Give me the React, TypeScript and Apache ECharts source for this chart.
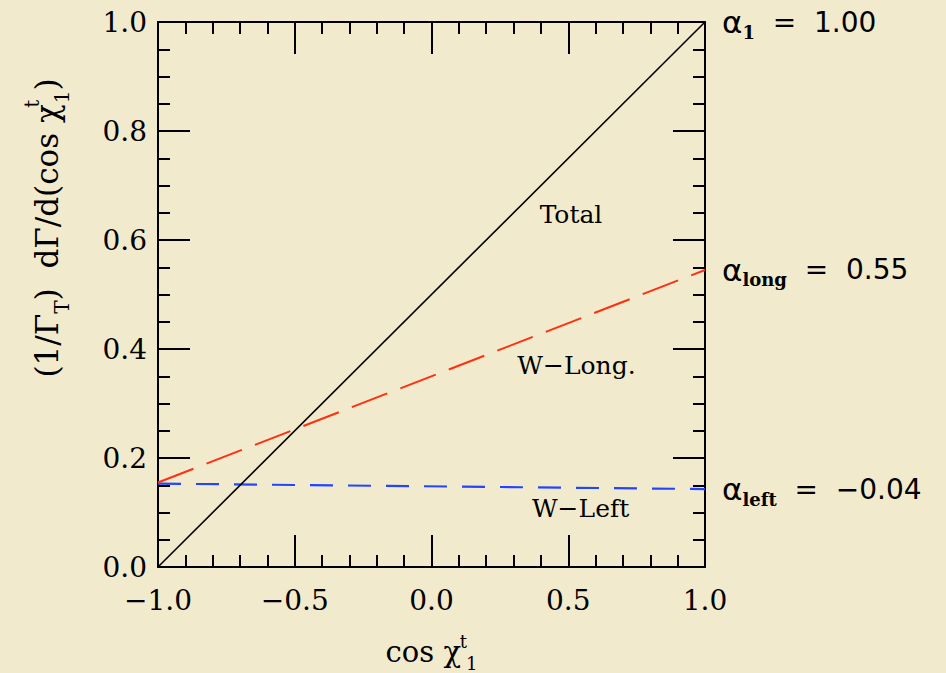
import React, { useEffect, useRef } from 'react';
import * as echarts from 'echarts';

// ---- data ----
const cosChi: number[] = [-1.0, 1.0];
const totalValues: number[] = [0.0, 1.0];
const longValues: number[] = [0.155, 0.545];
const leftValues: number[] = [0.153, 0.143];

const curveNames: string[] = ['Total', 'W−Long.', 'W−Left'];
const alphaSubs: string[] = ['1', 'long', 'left'];
const alphaValues: string[] = ['1.00', '0.55', '−0.04'];
// anchor (data coords) of the in-plot curve captions
const captionX: number[] = [0.51, 0.53, 0.545];
const captionY: number[] = [0.647, 0.369, 0.107];

const xMin = -1.0;
const xMax = 1.0;
const xStep = 0.5;
const yMin = 0.0;
const yMax = 1.0;
const yStep = 0.2;

const SERIF = '"DejaVu Serif", "Liberation Serif", serif';
const SANS = '"DejaVu Sans", "Noto Sans", sans-serif';
const INK = '#000000';
const BG = '#f2eacd';

const fmt = (v: number) => (v < 0 ? '−' : '') + Math.abs(v).toFixed(1);

const alphaRich = {
  a: { fontFamily: SANS, fontSize: 31, lineHeight: 38, verticalAlign: 'middle', color: INK },
  s: { fontFamily: SERIF, fontWeight: 'bold', fontSize: 18, lineHeight: 17, verticalAlign: 'bottom', color: INK },
  v: { fontFamily: SANS, fontSize: 28, lineHeight: 38, verticalAlign: 'middle', color: INK },
};
const alphaText = (i: number) => `{a|α}{s|${alphaSubs[i]}}{v|  =  ${alphaValues[i]}}`;

export default function App() {
  const ref = useRef<HTMLDivElement>(null);
  useEffect(() => {
    if (!ref.current) return;
    const chart = echarts.init(ref.current, null, { renderer: 'svg' });

    const pairs = (ys: number[]) => cosChi.map((x, i) => [x, ys[i]]);
    const axisCommon = {
      axisLine: { show: true, onZero: false, lineStyle: { color: INK, width: 2 } },
      axisTick: { show: true, inside: true, length: 32, lineStyle: { color: INK, width: 2 } },
      minorTick: { show: true, length: 12, lineStyle: { color: INK, width: 2 } },
      splitLine: { show: false },
      minorSplitLine: { show: false },
    };

    chart.setOption({
      animation: false,
      backgroundColor: BG,
      grid: { left: 158, right: 241, top: 22, bottom: 106, containLabel: false, outerBoundsMode: 'none' },
      xAxis: [
        {
          type: 'value', min: xMin, max: xMax, interval: xStep, position: 'bottom',
          ...axisCommon,
          minorTick: { ...axisCommon.minorTick, splitNumber: 5 },
          axisLabel: { show: true, formatter: fmt, margin: 19, fontFamily: SERIF, fontSize: 28, color: INK },
          name: '{m|cos χ}{sp|t}{sb|1}',
          nameLocation: 'middle',
          nameGap: 65,
          nameTextStyle: {
            rich: {
              m: { fontFamily: SERIF, fontSize: 29, lineHeight: 40, verticalAlign: 'middle', color: INK },
              sp: { fontFamily: SERIF, fontSize: 18, lineHeight: 17, verticalAlign: 'top', width: 1, padding: [0, 0, 0, 2], color: INK },
              sb: { fontFamily: SERIF, fontSize: 18, lineHeight: 17, verticalAlign: 'bottom', padding: [0, 0, 0, 2], color: INK },
            },
          },
        },
        {
          type: 'value', min: xMin, max: xMax, interval: xStep, position: 'top',
          ...axisCommon,
          minorTick: { ...axisCommon.minorTick, splitNumber: 5 },
          axisLabel: { show: false },
        },
      ],
      yAxis: [
        {
          type: 'value', min: yMin, max: yMax, interval: yStep, position: 'left',
          ...axisCommon,
          minorTick: { ...axisCommon.minorTick, splitNumber: 4 },
          axisLabel: { show: true, formatter: fmt, margin: 11, fontFamily: SERIF, fontSize: 28, color: INK },
        },
        {
          type: 'value', min: yMin, max: yMax, interval: yStep, position: 'right',
          ...axisCommon,
          minorTick: { ...axisCommon.minorTick, splitNumber: 4 },
          axisLabel: { show: false },
        },
      ],
      graphic: [
        {
          type: 'text',
          x: 47,
          y: 228,
          rotation: Math.PI / 2,
          style: {
            text: '{m|(1/Γ}{sb|T}{m|)  dΓ/d(cos χ}{sp|t}{sb|1}{m|)}',
            textAlign: 'center',
            textVerticalAlign: 'middle',
            rich: {
              m: { fontFamily: SERIF, fontSize: 31, lineHeight: 50, verticalAlign: 'middle', fill: INK },
              sp: { fontFamily: SERIF, fontSize: 20, lineHeight: 20, verticalAlign: 'top', width: 1, fill: INK },
              sb: { fontFamily: SERIF, fontSize: 20, lineHeight: 20, verticalAlign: 'bottom', fill: INK },
            },
          },
        },
      ],
      series: [
        {
          name: curveNames[2], type: 'line', data: pairs(leftValues), symbol: 'none',
          lineStyle: { color: '#2246ff', width: 2.2, type: [23, 15] },
          endLabel: { show: true, distance: 17, formatter: () => alphaText(2), rich: alphaRich },
        },
        {
          name: curveNames[1], type: 'line', data: pairs(longValues), symbol: 'none',
          lineStyle: { color: '#ff2f0f', width: 2, type: [38, 14] },
          endLabel: { show: true, distance: 17, formatter: () => alphaText(1), rich: alphaRich },
        },
        {
          name: curveNames[0], type: 'line', data: pairs(totalValues), symbol: 'none',
          lineStyle: { color: INK, width: 1.6 },
          endLabel: { show: true, distance: 17, formatter: () => alphaText(0), rich: alphaRich },
        },
        {
          name: 'captions', type: 'scatter', symbolSize: 0, silent: true,
          itemStyle: { color: INK, opacity: 0 },
          data: curveNames.map((n, i) => ({ name: n, value: [captionX[i], captionY[i]] })),
          label: {
            show: true, position: 'inside', formatter: (p: any) => p.name,
            fontFamily: SERIF, fontSize: 25, color: INK, textBorderWidth: 0, opacity: 1,
          },
        },
      ],
    });
    return () => chart.dispose();
  }, []);

  return (
    <div
      ref={ref}
      style={{ position: 'fixed', left: 0, top: 0, width: 946, height: 673, background: BG }}
    />
  );
}
